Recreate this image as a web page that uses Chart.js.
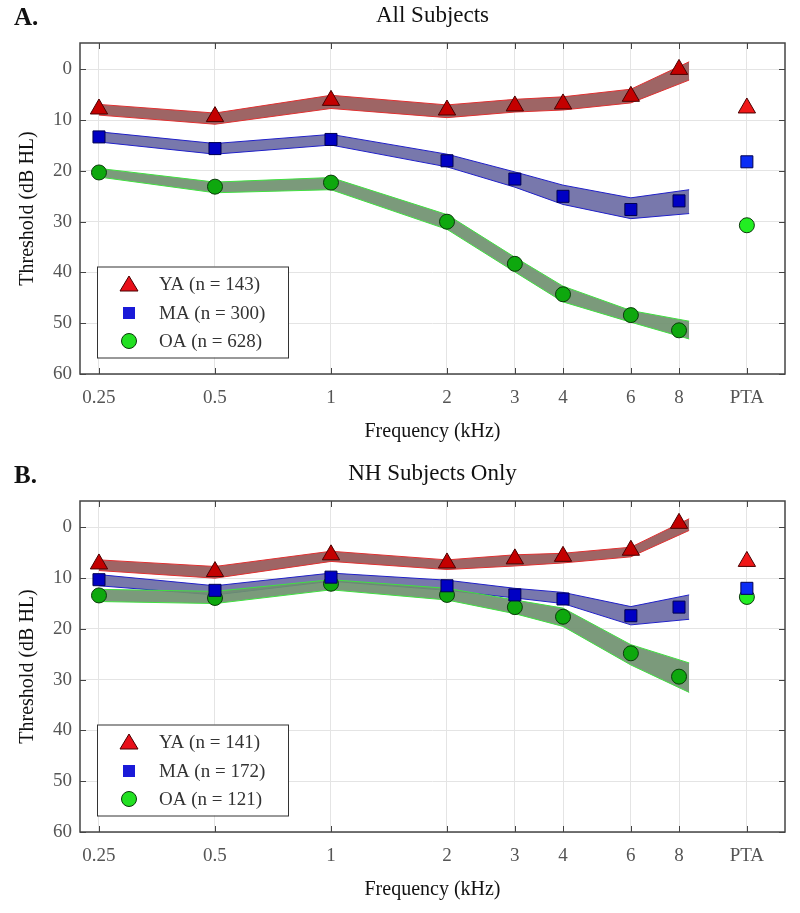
<!DOCTYPE html>
<html>
<head>
<meta charset="utf-8">
<script src="https://cdn.jsdelivr.net/npm/chart.js"></script>
<style>
  body { margin: 0; background: #fff; }
  .panel { position: absolute; left: 0; width: 800px; height: 455px; }
</style>
</head>
<body>
<div class="panel" style="top:0"><canvas id="chartA" width="800" height="455"></canvas></div>
<div class="panel" style="top:458px"><canvas id="chartB" width="800" height="455"></canvas></div>
<script>
// x positions in kHz (PTA column sits where 12 kHz would be)
const freqs = [0.25, 0.5, 1, 2, 3, 4, 6, 8];
const bandFreqs = [0.25, 0.5, 1, 2, 3, 4, 6, 8.5];
const ptaPos = 12;
const xTickValues = [0.25, 0.5, 1, 2, 3, 4, 6, 8, 12];
const xTickLabels = ['0.25', '0.5', '1', '2', '3', '4', '6', '8', 'PTA'];
const yTicks = [0, 10, 20, 30, 40, 50, 60];

// A. All subjects
const allYA = [7.8, 9.3, 6.1, 8.0, 7.2, 6.8, 5.3, 0.0];
const allYALow = [6.9, 8.6, 5.1, 7.0, 5.9, 5.4, 3.9, -1.5];
const allYAHigh = [9.0, 10.8, 7.7, 9.5, 8.4, 8.0, 6.6, 2.1];
const allMA = [13.3, 15.6, 13.8, 18.0, 21.6, 25.0, 27.6, 25.9];
const allMALow = [12.3, 14.6, 12.8, 16.7, 20.2, 22.8, 25.3, 23.7];
const allMAHigh = [14.3, 16.7, 14.9, 19.2, 23.2, 26.6, 29.4, 28.4];
const allOA = [20.3, 23.1, 22.3, 30.0, 38.3, 44.3, 48.4, 51.4];
const allOALow = [19.5, 22.2, 21.3, 28.6, 37.0, 42.7, 47.5, 49.6];
const allOAHigh = [21.2, 24.3, 23.7, 31.5, 39.9, 45.8, 49.8, 53.1];
const allPTA = [7.6, 18.2, 30.7];
const allLabels = ['YA (n = 143)', 'MA (n = 300)', 'OA (n = 628)'];

// B. NH subjects only
const nhYA = [7.2, 8.7, 5.4, 7.0, 6.2, 5.7, 4.5, -0.8];
const nhYALow = [6.4, 7.7, 4.7, 6.4, 5.4, 5.1, 3.9, -1.7];
const nhYAHigh = [8.5, 10.0, 6.7, 8.3, 7.6, 7.0, 5.8, 0.6];
const nhMA = [10.3, 12.4, 9.8, 11.5, 13.3, 14.1, 17.4, 15.7];
const nhMALow = [9.3, 11.5, 9.0, 10.4, 12.0, 12.8, 15.6, 13.3];
const nhMAHigh = [11.5, 13.3, 10.6, 12.4, 13.9, 15.0, 19.2, 18.1];
const nhOA = [13.4, 13.9, 11.1, 13.3, 15.7, 17.6, 24.8, 29.4];
const nhOALow = [12.2, 12.6, 10.3, 12.0, 14.3, 15.9, 23.1, 26.7];
const nhOAHigh = [14.6, 15.0, 12.3, 14.3, 17.0, 19.5, 27.1, 32.5];
const nhPTA = [6.7, 12.0, 13.7];
const nhLabels = ['YA (n = 141)', 'MA (n = 172)', 'OA (n = 121)'];

const FONT = '"Liberation Serif", "DejaVu Serif", serif';

const groups = [
  { style: 'triangle', radius: 10, fill: '#c40000', edge: '#4a0000', pta: '#f01818', legend: '#e8101a',
    band: 'rgba(150,88,88,0.92)', bandEdge: '#e03030' },
  { style: 'rect', radius: 8.5, fill: '#0000c4', edge: '#000050', pta: '#0a2cf5', legend: '#1a1ad8',
    band: 'rgba(108,108,165,0.92)', bandEdge: '#2020c8' },
  { style: 'circle', radius: 7.5, fill: '#0ea80e', edge: '#0a3a0a', pta: '#22ee22', legend: '#22e022',
    band: 'rgba(112,145,112,0.92)', bandEdge: '#40e040' }
];

function xy(xs, ys) {
  return xs.map((x, i) => ({ x: x, y: ys[i] }));
}

function buildDatasets(means, lows, highs, pta) {
  const ds = [];
  // bands: OA on top of MA on top of YA
  groups.forEach((g, k) => {
    const order = 10 - k;
    ds.push({ data: xy(bandFreqs, lows[k]), showLine: true, borderColor: g.bandEdge, borderWidth: 1,
      pointRadius: 0, fill: false, order: order, tension: 0 });
    ds.push({ data: xy(bandFreqs, highs[k]), showLine: true, borderColor: g.bandEdge, borderWidth: 1,
      pointRadius: 0, fill: '-1', backgroundColor: g.band, order: order, tension: 0 });
  });
  groups.forEach((g, k) => {
    ds.push({ data: xy(freqs, means[k]), showLine: false, pointStyle: g.style,
      pointRadius: g.radius, pointBackgroundColor: g.fill, pointBorderColor: g.edge,
      pointBorderWidth: 1, order: 0 });
    ds.push({ data: [{ x: ptaPos, y: pta[k] }], showLine: false, pointStyle: g.style,
      pointRadius: g.radius, pointBackgroundColor: g.pta, pointBorderColor: g.edge,
      pointBorderWidth: 1, order: 0 });
  });
  return ds;
}

function drawMarker(ctx, g, x, y) {
  ctx.save();
  ctx.fillStyle = g.legend;
  ctx.strokeStyle = g.edge;
  ctx.lineWidth = 1;
  ctx.beginPath();
  if (g.style === 'triangle') {
    ctx.moveTo(x, y - 8); ctx.lineTo(x + 9, y + 7); ctx.lineTo(x - 9, y + 7); ctx.closePath();
    ctx.fill(); ctx.stroke();
  } else if (g.style === 'rect') {
    ctx.rect(x - 6, y - 6, 12, 12); ctx.fill();
  } else {
    ctx.arc(x, y, 7.5, 0, Math.PI * 2); ctx.fill(); ctx.stroke();
  }
  ctx.restore();
}

const decoPlugin = {
  id: 'deco',
  afterDraw(chart, args, opts) {
    const ctx = chart.ctx;
    const a = chart.chartArea;
    const xs = chart.scales.x, ys = chart.scales.y;
    ctx.save();
    // titles
    ctx.fillStyle = '#111';
    ctx.textBaseline = 'middle';
    ctx.font = 'bold 25px ' + FONT;
    ctx.textAlign = 'left';
    ctx.fillText(opts.panel, 14, 19);
    ctx.font = '23px ' + FONT;
    ctx.textAlign = 'center';
    ctx.fillText(opts.title, (a.left + a.right) / 2, 16);
    // inner tick marks
    ctx.strokeStyle = '#444';
    ctx.lineWidth = 1;
    ctx.beginPath();
    xTickValues.forEach(v => {
      const px = Math.round(xs.getPixelForValue(v)) + 0.5;
      ctx.moveTo(px, a.bottom); ctx.lineTo(px, a.bottom - 6);
      ctx.moveTo(px, a.top); ctx.lineTo(px, a.top + 6);
    });
    yTicks.forEach(v => {
      const py = Math.round(ys.getPixelForValue(v)) + 0.5;
      ctx.moveTo(a.left, py); ctx.lineTo(a.left + 6, py);
      ctx.moveTo(a.right, py); ctx.lineTo(a.right - 6, py);
    });
    ctx.stroke();
    // frame
    ctx.strokeStyle = '#444';
    ctx.lineWidth = 1.5;
    ctx.strokeRect(a.left, a.top, a.right - a.left, a.bottom - a.top);
    // legend
    const lx = 97, ly = 266.5, lw = 191, lh = 91;
    ctx.fillStyle = '#fff';
    ctx.fillRect(lx, ly, lw, lh);
    ctx.strokeStyle = '#333';
    ctx.lineWidth = 1;
    ctx.strokeRect(lx + 0.5, ly + 0.5, lw, lh);
    const rows = [284, 313, 341];
    ctx.font = '19px ' + FONT;
    ctx.textAlign = 'left';
    groups.forEach((g, k) => {
      drawMarker(ctx, g, 129, rows[k]);
      ctx.fillStyle = '#333';
      ctx.fillText(opts.labels[k], 159, rows[k] + 1);
    });
    ctx.restore();
  }
};

function makeChart(id, panel, title, means, lows, highs, pta, labels) {
  return new Chart(document.getElementById(id), {
    type: 'scatter',
    data: { datasets: buildDatasets(means, lows, highs, pta) },
    options: {
      responsive: false,
      animation: false,
      events: [],
      layout: { padding: { top: 43, right: 15, left: 0, bottom: 0 } },
      plugins: {
        legend: { display: false },
        tooltip: { enabled: false },
        deco: { panel: panel, title: title, labels: labels }
      },
      scales: {
        x: {
          type: 'logarithmic',
          min: 0.2232,
          max: 15.07,
          afterBuildTicks: s => { s.ticks = xTickValues.map(v => ({ value: v })); },
          afterFit: s => { s.height = 81; },
          ticks: {
            autoSkip: false, maxRotation: 0, padding: 13,
            color: '#555', font: { family: FONT, size: 19 },
            callback: (v, i) => xTickLabels[i]
          },
          grid: { color: '#e4e4e4', drawTicks: false },
          border: { display: false },
          title: { display: true, text: 'Frequency (kHz)', color: '#111',
            font: { family: FONT, size: 20 }, padding: { top: 0, bottom: 11 } }
        },
        y: {
          reverse: true,
          min: -5.2,
          max: 60,
          afterBuildTicks: s => { s.ticks = yTicks.map(v => ({ value: v })); },
          afterFit: s => { s.width = 80; },
          ticks: { padding: 8, color: '#555', font: { family: FONT, size: 19 } },
          grid: { color: '#e4e4e4', drawTicks: false },
          border: { display: false },
          title: { display: true, text: 'Threshold (dB HL)', color: '#111',
            font: { family: FONT, size: 20 }, padding: { top: 16, bottom: 0 } }
        }
      }
    },
    plugins: [decoPlugin]
  });
}

makeChart('chartA', 'A.', 'All Subjects',
  [allYA, allMA, allOA], [allYALow, allMALow, allOALow], [allYAHigh, allMAHigh, allOAHigh],
  allPTA, allLabels);
makeChart('chartB', 'B.', 'NH Subjects Only',
  [nhYA, nhMA, nhOA], [nhYALow, nhMALow, nhOALow], [nhYAHigh, nhMAHigh, nhOAHigh],
  nhPTA, nhLabels);
</script>
</body>
</html>
